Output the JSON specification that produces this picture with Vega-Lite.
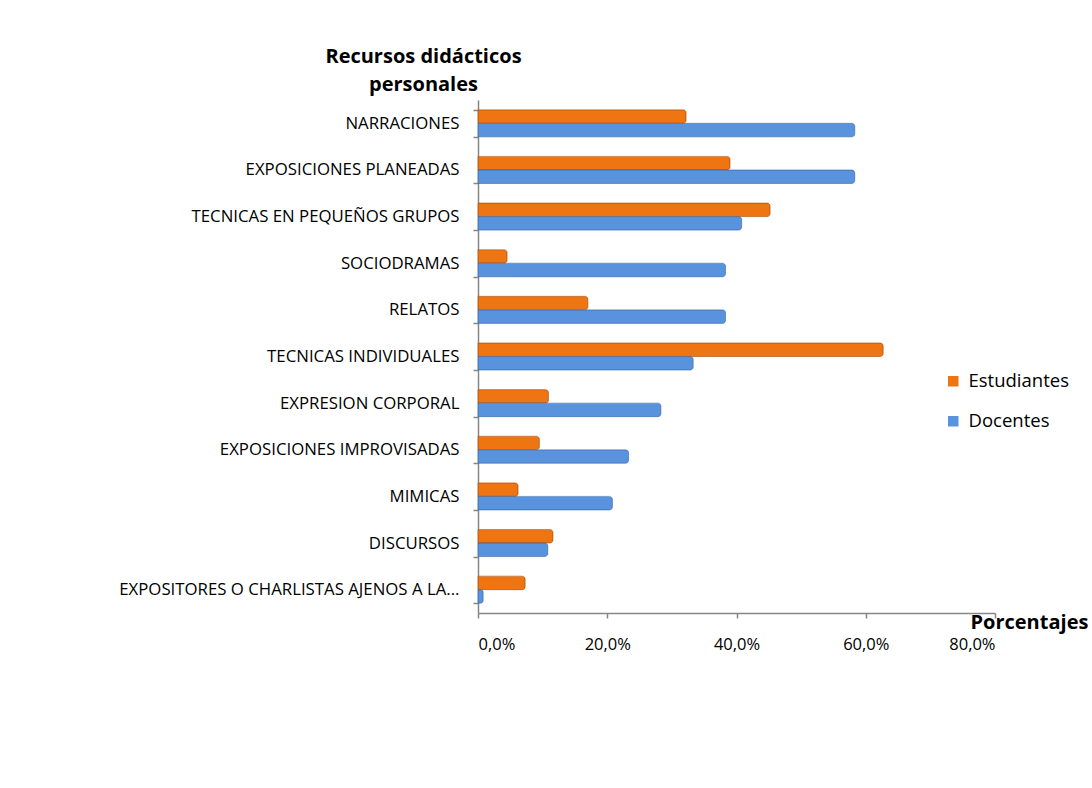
{
  "$schema": "https://vega.github.io/schema/vega-lite/v6.json",
  "autosize": "none",
  "width": 517,
  "height": 513,
  "padding": {"left": 478, "top": 100, "right": 97, "bottom": 175},
  "background": "white",
  "config": {
    "locale": {"number": {"decimal": ",", "thousands": ".", "grouping": [3], "currency": ["", " €"]}},
    "view": {"stroke": null},
    "font": "Open Sans"
  },
  "data": {
    "values": [
      {"recurso": "NARRACIONES", "grupo": "Estudiantes", "valor": 0.322},
      {"recurso": "NARRACIONES", "grupo": "Docentes", "valor": 0.583},
      {"recurso": "EXPOSICIONES PLANEADAS", "grupo": "Estudiantes", "valor": 0.390},
      {"recurso": "EXPOSICIONES PLANEADAS", "grupo": "Docentes", "valor": 0.583},
      {"recurso": "TECNICAS EN PEQUEÑOS GRUPOS", "grupo": "Estudiantes", "valor": 0.452},
      {"recurso": "TECNICAS EN PEQUEÑOS GRUPOS", "grupo": "Docentes", "valor": 0.408},
      {"recurso": "SOCIODRAMAS", "grupo": "Estudiantes", "valor": 0.045},
      {"recurso": "SOCIODRAMAS", "grupo": "Docentes", "valor": 0.383},
      {"recurso": "RELATOS", "grupo": "Estudiantes", "valor": 0.170},
      {"recurso": "RELATOS", "grupo": "Docentes", "valor": 0.383},
      {"recurso": "TECNICAS INDIVIDUALES", "grupo": "Estudiantes", "valor": 0.627},
      {"recurso": "TECNICAS INDIVIDUALES", "grupo": "Docentes", "valor": 0.333},
      {"recurso": "EXPRESION CORPORAL", "grupo": "Estudiantes", "valor": 0.109},
      {"recurso": "EXPRESION CORPORAL", "grupo": "Docentes", "valor": 0.283},
      {"recurso": "EXPOSICIONES IMPROVISADAS", "grupo": "Estudiantes", "valor": 0.095},
      {"recurso": "EXPOSICIONES IMPROVISADAS", "grupo": "Docentes", "valor": 0.233},
      {"recurso": "MIMICAS", "grupo": "Estudiantes", "valor": 0.062},
      {"recurso": "MIMICAS", "grupo": "Docentes", "valor": 0.208},
      {"recurso": "DISCURSOS", "grupo": "Estudiantes", "valor": 0.116},
      {"recurso": "DISCURSOS", "grupo": "Docentes", "valor": 0.108},
      {"recurso": "EXPOSITORES O CHARLISTAS AJENOS A LA...", "grupo": "Estudiantes", "valor": 0.073},
      {"recurso": "EXPOSITORES O CHARLISTAS AJENOS A LA...", "grupo": "Docentes", "valor": 0.008}
    ]
  },
  "mark": {"type": "bar", "cornerRadiusEnd": 3, "strokeWidth": 0.6},
  "encoding": {
    "y": {
      "field": "recurso",
      "type": "nominal",
      "sort": null,
      "scale": {"paddingInner": 0.42, "paddingOuter": 0.21},
      "axis": {
        "title": ["Recursos didácticos", "personales"],
        "titleAngle": 0,
        "titleAlign": "center",
        "titleBaseline": "alphabetic",
        "titleX": -55,
        "titleY": -38,
        "titleLineHeight": 28,
        "titleFontSize": 20,
        "titleFontWeight": "bold",
        "titleColor": "#000000",
        "labelFontSize": 16.8,
        "labelColor": "#000000",
        "labelPadding": 14,
        "labelLimit": 450,
        "tickBand": "extent",
        "tickSize": 5,
        "tickColor": "#868686",
        "domainColor": "#868686",
        "domainWidth": 1.5,
        "tickWidth": 1.5
      }
    },
    "yOffset": {"field": "grupo", "type": "nominal", "sort": ["Estudiantes", "Docentes"]},
    "x": {
      "field": "valor",
      "type": "quantitative",
      "scale": {"domain": [0, 0.8], "nice": false},
      "axis": {
        "values": [0, 0.2, 0.4, 0.6, 0.8],
        "format": ".1%",
        "grid": false,
        "title": "Porcentajes",
        "titleAlign": "left",
        "titleBaseline": "alphabetic",
        "titleX": 492,
        "titleY": 15,
        "titleFontSize": 20,
        "titleFontWeight": "bold",
        "titleColor": "#000000",
        "labelFontSize": 16.5,
        "labelColor": "#000000",
        "labelPadding": 18,
        "tickSize": 5,
        "tickColor": "#868686",
        "domainColor": "#868686",
        "domainWidth": 1.5,
        "tickWidth": 1.5
      }
    },
    "color": {
      "field": "grupo",
      "type": "nominal",
      "sort": ["Estudiantes", "Docentes"],
      "scale": {"domain": ["Estudiantes", "Docentes"], "range": ["#EE7511", "#5A93DD"]},
      "legend": {
        "title": null,
        "orient": "none",
        "legendX": 466,
        "legendY": 272,
        "symbolType": "square",
        "symbolSize": 110,
        "symbolStrokeWidth": 0,
        "labelFontSize": 18.5,
        "labelColor": "#000000",
        "rowPadding": 21,
        "labelOffset": 6
      }
    },
    "stroke": {
      "field": "grupo",
      "type": "nominal",
      "scale": {"domain": ["Estudiantes", "Docentes"], "range": ["#B4530A", "#3D6CB0"]},
      "legend": null
    }
  }
}
